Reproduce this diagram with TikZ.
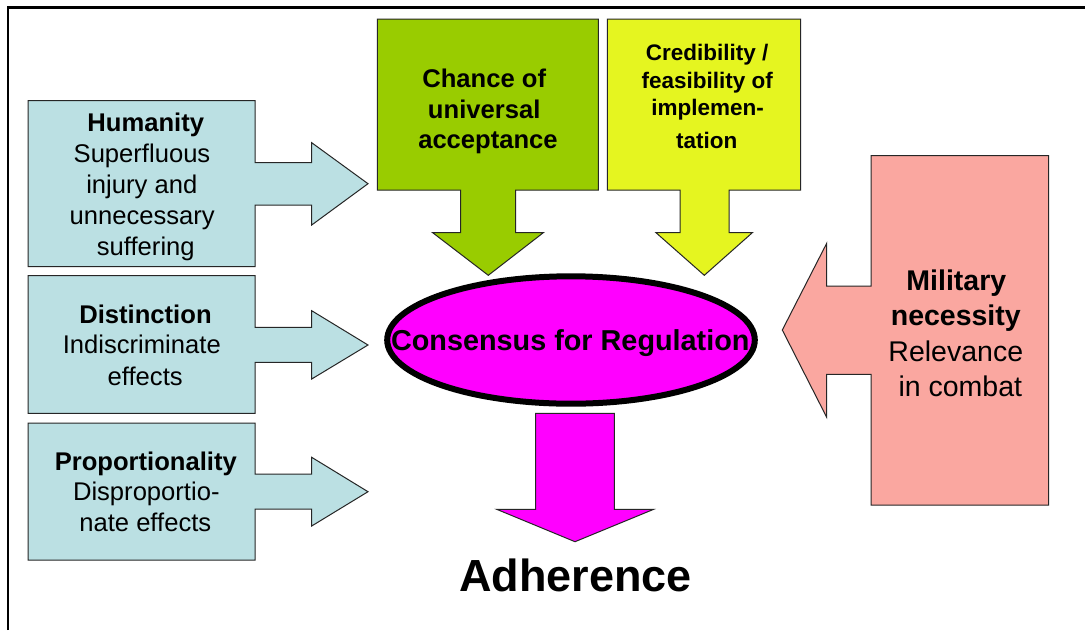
\documentclass[tikz,border=0pt]{standalone}
\usepackage{fontspec}
\setmainfont{Liberation Sans}
\usetikzlibrary{shapes.geometric}
\definecolor{lblue}{RGB}{187,224,227}
\definecolor{lgreen}{RGB}{153,204,0}
\definecolor{lyellow}{RGB}{229,245,32}
\definecolor{salmon}{RGB}{250,167,160}
\definecolor{mag}{RGB}{255,0,255}
\begin{document}
\begin{tikzpicture}[x=1pt,y=-1pt,
  shapeline/.style={draw=black!85, line width=1pt, line join=miter},
  tb/.style={font=\fontsize{25.6}{30}\selectfont\bfseries, inner sep=0pt, anchor=base},
  tr/.style={font=\fontsize{25.6}{30}\selectfont, inner sep=0pt, anchor=base},
  cb/.style={font=\fontsize{22.5}{27}\selectfont\bfseries, inner sep=0pt, anchor=base},
  mb/.style={font=\fontsize{28.5}{34}\selectfont\bfseries, inner sep=0pt, anchor=base},
  mr/.style={font=\fontsize{28.5}{34}\selectfont, inner sep=0pt, anchor=base}]
\useasboundingbox (0,0) rectangle (1085,630);
\fill[white] (0,0) rectangle (1085,630);
% frame
\coordinate (fc) at (8,7.5);
\coordinate (fr) at (1085,7.5);
\coordinate (fb) at (8,630);
\draw[line width=2.3pt] (fb) -- (fc) -- (fr);
% Humanity
\draw[shapeline, fill=lblue] (28,100.7) -- (255,100.7) -- (255,162.7) -- (311.7,162.7) -- (311.7,142.7) -- (368,183.7) -- (311.7,225) -- (311.7,205) -- (255,205) -- (255,266.7) -- (28,266.7) -- cycle;
\node[tb] (h1) at (145.8,131.7) {Humanity};
\node[tr] (h2) at (142,162.5) {Superfluous};
\node[tr] (h3) at (141.8,193.5) {injury and};
\node[tr] (h4) at (142.2,224.5) {unnecessary};
\node[tr] (h5) at (145.8,255.5) {suffering};
% Distinction
\draw[shapeline, fill=lblue] (28,275.7) -- (255,275.7) -- (255,327.3) -- (311.7,327.3) -- (311.7,310.7) -- (368,345) -- (311.7,379) -- (311.7,362.3) -- (255,362.3) -- (255,413.3) -- (28,413.3) -- cycle;
\node[tb] (d1) at (145.5,323.3) {Distinction};
\node[tr] (d2) at (141.8,353.3) {Indiscriminate};
\node[tr] (d3) at (145.2,385) {effects};
% Proportionality
\draw[shapeline, fill=lblue] (28,423) -- (255,423) -- (255,474) -- (311.7,474) -- (311.7,457.3) -- (368,491.7) -- (311.7,526) -- (311.7,509) -- (255,509) -- (255,560) -- (28,560) -- cycle;
\node[tb] (p1) at (145.8,470) {Proportionality};
\node[tr] (p2) at (146.3,500.7) {Disproportio-};
\node[tr] (p3) at (145.3,531.7) {nate effects};
% Chance of universal acceptance
\draw[shapeline, fill=lgreen] (377.3,19) -- (598.3,19) -- (598.3,190) -- (515.7,190) -- (515.7,232.7) -- (543.3,232.7) -- (488.3,275.3) -- (432.7,232.7) -- (460.7,232.7) -- (460.7,190) -- (377.3,190) -- cycle;
\node[tb] (c1) at (484.2,87.3) {Chance of};
\node[tb] (c2) at (484.2,118.3) {universal};
\node[tb] (c3) at (488,148.3) {acceptance};
% Credibility
\draw[shapeline, fill=lyellow] (607.3,19) -- (800.7,19) -- (800.7,190) -- (729,190) -- (729,232.7) -- (752.3,232.7) -- (704.3,275.3) -- (656,232.7) -- (680,232.7) -- (680,190) -- (607.3,190) -- cycle;
\node[cb] (k1) at (707.2,60) {Credibility /};
\node[cb] (k2) at (707.2,88.3) {feasibility of};
\node[cb] (k3) at (707.7,115) {implemen-};
\node[cb] (k4) at (706.7,148.3) {tation};
% Military necessity
\draw[shapeline, fill=salmon] (871,155.7) -- (1048.7,155.7) -- (1048.7,505) -- (871,505) -- (871,374.3) -- (826.7,374.3) -- (826.7,417.3) -- (782.3,330) -- (826.7,243.3) -- (826.7,286) -- (871,286) -- cycle;
\node[mb] (m1) at (956.3,290) {Military};
\node[mb] (m2) at (955.8,325) {necessity};
\node[mr] (m3) at (955.8,361.7) {Relevance};
\node[mr] (m4) at (960.3,396.7) {in combat};
% Consensus ellipse
\node[ellipse, draw=black, line width=6pt, fill=mag, minimum width=367.6pt, minimum height=127.4pt, inner sep=0pt] (cons) at (571,340) {};
\node[font=\fontsize{28.8}{34}\selectfont\bfseries, inner sep=0pt, anchor=base] (constext) at (570.3,350) {Consensus for Regulation};
% Down arrow
\draw[shapeline, fill=mag] (535.7,413.3) -- (614.3,413.3) -- (614.3,509.3) -- (653.7,509.3) -- (575,541.7) -- (496.7,509.3) -- (535.7,509.3) -- cycle;
\node[font=\fontsize{45}{50}\selectfont\bfseries, inner sep=0pt, anchor=base] (adh) at (575.5,591.7) {Adherence};
\end{tikzpicture}
\end{document}
